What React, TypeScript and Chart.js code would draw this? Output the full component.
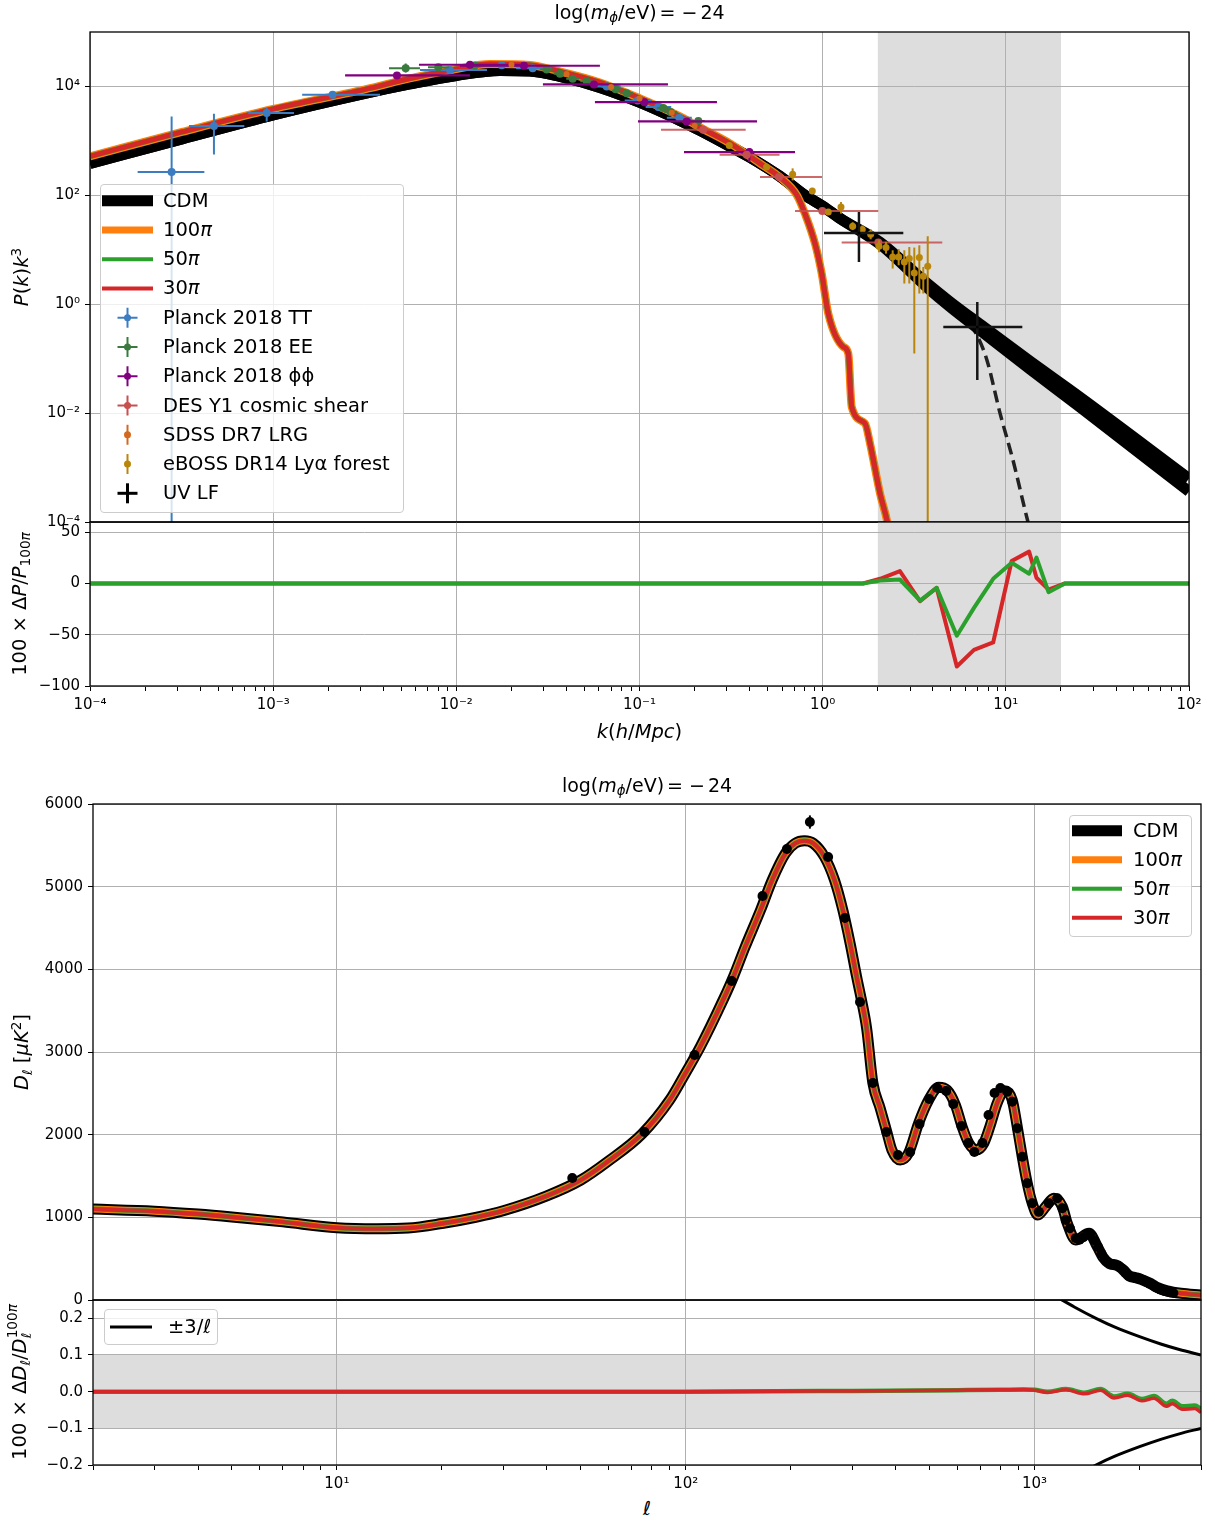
import React, { useEffect, useRef } from "react";
import { Chart, registerables } from "chart.js";

Chart.register(...registerables);

const FONT = "'DejaVu Sans', 'Liberation Sans', sans-serif";
const GRID = "#b0b0b0";
const SHADE = "#dddddd";
const ORANGE = "#ff7f0e";
const GREEN = "#2ca02c";
const RED = "#d62728";
const C_TT = "#3b7dc0";
const C_EE = "#3a7a3f";
const C_PP = "#800080";
const C_DES = "#c64f50";
const C_SDSS = "#d2691e";
const C_EBOSS = "#b8860b";

// ================= Panel 1: P(k) k^3 =================
const kCDM = [1e-4, 3.18e-4, 1e-3, 3.17e-3, 5.58e-3, 0.01, 0.0173, 0.0252, 0.0368, 0.0608, 0.1007, 0.1663, 0.2138, 0.3119, 0.4009, 0.5848, 0.8, 1.004, 1.243, 2.056, 3.712, 4.956, 7.225, 13.55, 25.4, 100];
const pkCDM = [386, 1089, 2999, 7447, 11110, 15920, 19660, 19230, 15250, 9585, 5078, 2377, 1560, 792, 498, 223, 100, 62.8, 37.8, 12.62, 2.05, 0.9, 0.3334, 0.0641, 0.01288, 3.63e-4];
const pkCDMUpper = [386, 1089, 2999, 7447, 11110, 15920, 19660, 19230, 15250, 9585, 5078, 2377, 1560, 792, 498, 223, 100, 62.8, 37.8, 13.73, 2.428, 1.111, 0.4295, 0.0899, 0.01968, 6.28e-4];

const kFDM = [1e-4, 3.18e-4, 1e-3, 3.17e-3, 5.58e-3, 0.01, 0.01527, 0.0252, 0.0368, 0.0608, 0.1007, 0.1663, 0.2138, 0.3119, 0.4547, 0.5848, 0.724, 0.8, 0.9081, 0.988, 1.073, 1.296, 1.38, 1.44, 1.702, 1.813, 2.056, 2.253, 2.451];
const pkFDM = [520, 1462, 3864, 8811, 14030, 20930, 25880, 24770, 18840, 11840, 6026, 2818, 1771, 899, 386, 214, 100, 46.1, 13.0, 3.66, 0.674, 0.165, 0.124, 0.0131, 6.47e-3, 2.78e-3, 3.37e-4, 1.01e-4, 2.0e-5];

const kDash = [3.854, 4.956, 5.984, 6.958, 7.889, 9.292, 10.94, 13.21, 15.36];
const pkDash = [2.05, 1.0, 0.553, 0.27, 0.0938, 0.01, 1.37e-3, 1e-4, 1.6e-5];

const kTT = [2.79e-4, 4.75e-4, 9.22e-4, 2.11e-3, 9.23e-3, 0.01769, 0.02611, 0.0662, 0.0977, 0.1266, 0.165];
const pkTT = [268, 1869, 3236, 7043, 20100, 24590, 21670, 10000, 5535, 4172, 2666];
const kTTlo = [1.82e-4, 3.47e-4, 7.31e-4, 1.44e-3, 6.33e-3, 0.0142, 0.0212, 0.0556, 0.083, 0.108, 0.141];
const kTThi = [4.21e-4, 6.96e-4, 1.3e-3, 3.83e-3, 0.0147, 0.0225, 0.033, 0.079, 0.1155, 0.149, 0.193];
const pkTTlo = [1e-6, 565, 2280, 6650, 19300, 23800, 21000, 9700, 5380, 4050, 2580];
const pkTThi = [2815, 3155, 4064, 7450, 20900, 25400, 22400, 10300, 5700, 4300, 2760];

const kEE = [5.29e-3, 7.97e-3, 0.01264, 0.03113, 0.0368, 0.04317, 0.05148, 0.07413, 0.0851, 0.1349, 0.148, 0.2094];
const pkEE = [21670, 22600, 24270, 20500, 17100, 13840, 12510, 8923, 7535, 3998, 3376, 2308];
const kEElo = [4.29e-3, 7.0e-3, 0.0112, 0.0287, 0.034, 0.0398, 0.0475, 0.0684, 0.0785, 0.1245, 0.1365, 0.193];
const kEEhi = [6.33e-3, 9.1e-3, 0.0143, 0.0338, 0.0399, 0.0468, 0.0558, 0.0804, 0.0923, 0.1462, 0.1605, 0.227];
const pkEElo = [18070, 21500, 23100, 19500, 16200, 13100, 11850, 8450, 7130, 3780, 3190, 2180];
const pkEEhi = [26420, 23700, 25400, 21500, 18000, 14600, 13200, 9400, 7950, 4220, 3560, 2440];

const kPP = [4.74e-3, 0.01187, 0.0234, 0.0564, 0.1062, 0.181, 0.3977];
const pkPP = [15920, 25010, 23980, 10880, 5150, 2280, 623];
const kPPlo = [2.47e-3, 6.25e-3, 0.01047, 0.0297, 0.0571, 0.0981, 0.175];
const kPPhi = [0.01187, 0.02226, 0.0608, 0.143, 0.2648, 0.438, 0.7063];
const pkPPlo = [15300, 24200, 23200, 10500, 4950, 2180, 408];
const pkPPhi = [16600, 25800, 24800, 11300, 5350, 2390, 729];

const kDES = [0.223, 0.3847, 0.5776, 0.9954, 2.012];
const pkDES = [1605, 558, 216.7, 51.5, 13.56];
const kDESlo = [0.131, 0.2737, 0.4548, 0.7063, 1.27];
const kDEShi = [0.38, 0.5818, 0.9915, 2.012, 4.498];
const pkDESlo = [1530, 530, 205, 48.5, 12.7];
const pkDEShi = [1680, 586, 228, 54.5, 14.4];

const kSDSS = [0.02, 0.04, 0.07, 0.1, 0.15, 0.2];
const pkSDSS = [25000, 17000, 9800, 6000, 3300, 1900];
const pkSDSSlo = [23500, 16000, 9200, 5640, 3100, 1790];
const pkSDSShi = [26500, 18000, 10400, 6360, 3500, 2010];

const kLya = [0.3091, 0.4943, 0.6855, 0.8777, 1.073, 1.259, 1.458, 1.645, 1.828, 2.03, 2.218, 2.411, 2.6, 2.791, 2.972, 3.164, 3.371, 3.543, 3.746];
const pkLya = [827, 330, 242.8, 119.9, 49.4, 61.0, 27.0, 23.5, 19.25, 11.6, 10.98, 7.38, 7.38, 5.97, 6.9, 3.75, 7.19, 3.27, 4.98];
const pkLyaLo = [760, 300, 188, 105, 44, 46.1, 23, 19.5, 15.6, 9.0, 8.5, 4.52, 5.2, 2.4, 2.4, 0.1246, 1.572, 1.572, 1e-6];
const pkLyaHi = [900, 360, 313, 137, 56, 75.3, 32, 28, 23.8, 15.0, 14.0, 9.79, 10.3, 9.79, 11.26, 10.98, 12.09, 4.835, 17.69];

const kUV = [1.578, 6.985];
const pkUV = [20.3, 0.3834];
const kUVlo = [1.017, 4.556];
const kUVhi = [2.756, 12.3];
const pkUVlo = [5.97, 0.0404];
const pkUVhi = [49.4, 1.1];

// ================= Panel 2: residual of P(k) =================
const kRes = [1e-4, 1e-3, 1e-2, 0.1, 1.0, 1.66, 2.06, 2.64, 3.4, 4.19, 5.4, 6.7, 8.53, 10.76, 13.4, 14.7, 17.1, 21.0, 30, 100];
const resP50 = [0, 0, 0, 0, 0, 0, 2.9, 3.9, -16.7, -4.2, -51, -23.8, 4.6, 20.3, 9.5, 25.2, -8.5, 0, 0, 0];
const resP30 = [0, 0, 0, 0, 0, 0, 4.6, 12.1, -17.3, -4.2, -81, -64.7, -57.5, 21.9, 31.1, 5.6, -5.9, 0, 0, 0];

// ================= Panel 3: CMB TT =================
const ellModel = [2, 3, 4, 5, 7, 10, 13, 16, 20, 25, 30, 40, 50, 60, 75, 90, 100, 110, 128, 137, 148, 164, 177, 193, 206, 219, 232, 250, 267, 282, 296, 309, 319, 330, 344, 361, 377, 390, 412, 435, 465, 497, 531, 561, 593, 620, 648, 681, 715, 747, 781, 820, 863, 892, 922, 953, 985, 1022, 1076, 1136, 1201, 1241, 1312, 1433, 1514, 1570, 1640, 1720, 1800, 1870, 1950, 2020, 2150, 2250, 2400, 2628, 3000];
const dlModel = [1100, 1075, 1040, 1005, 945, 875, 862, 870, 925, 1000, 1080, 1260, 1450, 1680, 2010, 2420, 2750, 3060, 3630, 3910, 4270, 4720, 5080, 5400, 5525, 5555, 5525, 5360, 5080, 4720, 4315, 3910, 3630, 3290, 2625, 2320, 2036, 1814, 1693, 1775, 2137, 2419, 2573, 2540, 2359, 2096, 1896, 1814, 1896, 2117, 2379, 2532, 2419, 2096, 1733, 1411, 1170, 1028, 1129, 1230, 1129, 928, 726, 807, 645, 520, 440, 420, 360, 290, 270, 250, 200, 150, 110, 81, 60];

const ellData = [47.3, 76.2, 106, 135.5, 166, 195, 227, 256, 286, 316, 344, 376, 406, 440, 468, 499, 526, 558, 585, 617, 646, 672, 709, 738, 768, 798, 835, 863, 892, 922, 953, 985, 1029, 1099, 1162, 1201, 1228, 1263, 1312, 1345, 1380, 1415, 1450, 1485, 1520, 1555, 1590, 1625, 1660, 1700, 1740, 1780, 1820, 1860, 1900, 1940, 1980, 2020, 2060, 2100, 2140, 2180, 2220, 2260, 2300, 2350, 2400, 2450, 2500];
const dlData = [1476, 2032, 2964, 3859, 4887, 5455, 5782, 5359, 4621, 3605, 2625, 2032, 1754, 1790, 2129, 2431, 2564, 2528, 2371, 2105, 1899, 1790, 1899, 2238, 2504, 2564, 2520, 2399, 2077, 1733, 1412, 1170, 1068, 1170, 1230, 1109, 968, 867, 746, 730, 760, 800, 790, 720, 640, 560, 490, 450, 430, 420, 410, 380, 330, 295, 280, 270, 260, 250, 235, 215, 195, 175, 155, 140, 125, 110, 100, 90, 85];
const dlErr = [50, 45, 35, 35, 40, 45, 80, 40, 35, 30,
  30, 25, 25, 25, 25, 25, 25, 25, 25, 25,
  25, 25, 25, 25, 25, 25, 25, 25, 25, 25,
  25, 25, 25, 25, 25, 25, 25, 25, 25, 25,
  25, 25, 25, 25, 25, 25, 25, 25, 25, 25,
  25, 25, 25, 25, 25, 25, 25, 25, 25, 25,
  25, 25, 25, 25, 25, 25, 25, 25, 25];

// ================= Panel 4: residual of D_ell =================
const ellRes = [2, 10, 100, 300, 600, 800, 930, 1000, 1090, 1230, 1390, 1545, 1690, 1850, 2030, 2200, 2390, 2480, 2650, 2880, 3000];
const resD50 = [0, 0, 0, 0.002, 0.004, 0.005, 0.006, 0.005, 0.0, 0.007, -0.003, 0.007, -0.013, -0.006, -0.02, -0.012, -0.033, -0.025, -0.04, -0.038, -0.047];
const resD30 = [0, 0, 0, 0.002, 0.004, 0.005, 0.006, 0.004, -0.002, 0.005, -0.006, 0.004, -0.017, -0.01, -0.025, -0.018, -0.04, -0.033, -0.048, -0.046, -0.057];
const ellBound = [1180, 1300, 1500, 1700, 2000, 2300, 2600, 3000];
const boundUp = [0.254, 0.231, 0.2, 0.176, 0.15, 0.13, 0.115, 0.1];
const boundDown = [-0.254, -0.231, -0.2, -0.176, -0.15, -0.13, -0.115, -0.1];

// ================= helpers =================
const SUP: Record<string, string> = { "-": "\u207B", "0": "\u2070", "1": "\u00B9", "2": "\u00B2", "3": "\u00B3", "4": "\u2074", "5": "\u2075", "6": "\u2076", "7": "\u2077", "8": "\u2078", "9": "\u2079" };
function decadeLabel(v: number): string {
  const e = Math.round(Math.log10(v));
  return "10" + String(e).split("").map((c) => SUP[c]).join("");
}
function uminus(v: number, digits: number): string {
  return v.toFixed(digits).replace("-", "\u2212");
}
function logTickList(min: number, max: number) {
  const out: any[] = [];
  const e0 = Math.floor(Math.log10(min) + 1e-9);
  const e1 = Math.ceil(Math.log10(max) - 1e-9);
  for (let e = e0; e <= e1; e++) {
    for (let m = 1; m <= 9; m++) {
      const v = m * Math.pow(10, e);
      if (v >= min * (1 - 1e-9) && v <= max * (1 + 1e-9)) out.push({ value: v, major: m === 1 });
    }
  }
  return out;
}
const pts = (xs: number[], ys: number[]) => xs.map((x, i) => ({ x, y: ys[i] }));

function lineDS(label: string, xs: number[], ys: number[], color: string, width: number, extra: any = {}) {
  return {
    label, data: pts(xs, ys), showLine: true, borderColor: color, backgroundColor: color,
    borderWidth: width, pointRadius: 0, pointHoverRadius: 0, fill: false, clip: 0,
    borderJoinStyle: "round", borderCapStyle: "butt", cubicInterpolationMode: "monotone", ...extra,
  };
}
function pointDS(label: string, xs: number[], ys: number[], color: string, radius: number, errors: any, errColor: string, errWidth: number) {
  return {
    label, data: pts(xs, ys), showLine: false, pointRadius: radius, pointHoverRadius: radius,
    pointBackgroundColor: color, pointBorderColor: color, pointBorderWidth: 0,
    backgroundColor: color, borderColor: color, clip: 0, errors, errColor, errWidth,
  };
}

const errorBarPlugin = {
  id: "errorBars",
  beforeDatasetDraw(chart: any, args: any) {
    const ds = chart.data.datasets[args.index];
    if (!ds || !ds.errors) return;
    const { ctx, chartArea: a } = chart;
    const xs = chart.scales.x;
    const ys = chart.scales.y;
    const e = ds.errors;
    ctx.save();
    ctx.beginPath();
    ctx.rect(a.left, a.top, a.right - a.left, a.bottom - a.top);
    ctx.clip();
    ctx.strokeStyle = ds.errColor;
    ctx.lineWidth = ds.errWidth;
    ctx.lineCap = "butt";
    ds.data.forEach((p: any, i: number) => {
      const px = xs.getPixelForValue(p.x);
      const py = ys.getPixelForValue(p.y);
      ctx.beginPath();
      if (e.xLo) {
        ctx.moveTo(xs.getPixelForValue(e.xLo[i]), py);
        ctx.lineTo(xs.getPixelForValue(e.xHi[i]), py);
      }
      if (e.yLo) {
        ctx.moveTo(px, Math.min(ys.getPixelForValue(e.yLo[i]), a.bottom + 50));
        ctx.lineTo(px, ys.getPixelForValue(e.yHi[i]));
      }
      ctx.stroke();
    });
    ctx.restore();
  },
};

const shadePlugin = (boxes: any[]) => ({
  id: "shade",
  beforeDraw(chart: any) {
    const { ctx, chartArea: a, scales } = chart;
    ctx.save();
    ctx.fillStyle = SHADE;
    boxes.forEach((b) => {
      const x0 = b.xMin != null ? scales.x.getPixelForValue(b.xMin) : a.left;
      const x1 = b.xMax != null ? scales.x.getPixelForValue(b.xMax) : a.right;
      const y0 = b.yMax != null ? scales.y.getPixelForValue(b.yMax) : a.top;
      const y1 = b.yMin != null ? scales.y.getPixelForValue(b.yMin) : a.bottom;
      ctx.fillRect(Math.max(a.left, x0), Math.max(a.top, y0), Math.min(a.right, x1) - Math.max(a.left, x0), Math.min(a.bottom, y1) - Math.max(a.top, y0));
    });
    ctx.restore();
  },
});

const framePlugin = {
  id: "frame",
  afterDraw(chart: any) {
    const { ctx, chartArea: a } = chart;
    ctx.save();
    ctx.strokeStyle = "#000";
    ctx.lineWidth = 1.3;
    ctx.strokeRect(a.left, a.top, a.right - a.left, a.bottom - a.top);
    ctx.restore();
  },
};

const tickFont = { family: FONT, size: 15 };
const PAD = 16; // canvas margin above / below each plot area (room for tick labels)

function logX(min: number, max: number, showLabels: boolean, fitH: number) {
  return {
    type: "logarithmic", position: "bottom", min, max,
    afterBuildTicks: (s: any) => { s.ticks = logTickList(min, max); },
    afterFit: (s: any) => { s.height = fitH; },
    ticks: {
      display: showLabels, autoSkip: false, maxRotation: 0, minRotation: 0, font: tickFont, color: "#000", padding: 5,
      callback: (v: number, i: number, t: any[]) => (t[i] && t[i].major ? decadeLabel(v) : ""),
    },
    grid: {
      color: (c: any) => (c.tick && c.tick.major ? GRID : "rgba(0,0,0,0)"),
      lineWidth: 1, drawTicks: showLabels, tickLength: 5, tickColor: "#000", tickWidth: 1,
    },
    border: { display: false },
  };
}
function yAxis(type: string, min: number, max: number, vals: number[], fmt: (v: number) => string, width: number) {
  return {
    type, position: "left", min, max,
    afterBuildTicks: (s: any) => { s.ticks = vals.map((v) => ({ value: v })); },
    afterFit: (s: any) => { s.width = width; },
    ticks: { autoSkip: false, font: tickFont, color: "#000", padding: 5, callback: (v: number) => fmt(v) },
    grid: { color: GRID, lineWidth: 1, tickLength: 5, tickColor: "#000", tickWidth: 1 },
    border: { display: false },
  };
}
function baseOptions(scales: any, padding: any) {
  return {
    responsive: false, maintainAspectRatio: false, animation: false, devicePixelRatio: 1, events: [],
    layout: { padding },
    plugins: { legend: { display: false }, tooltip: { enabled: false }, title: { display: false } },
    scales,
  };
}

// ================= chart configs =================
const cfgPk = () => ({
  type: "scatter",
  data: {
    datasets: [
      pointDS("UV LF", kUV, pkUV, "#000", 1.5, { xLo: kUVlo, xHi: kUVhi, yLo: pkUVlo, yHi: pkUVhi }, "#151515", 2.5),
      pointDS("eBOSS DR14 Lyα forest", kLya, pkLya, C_EBOSS, 3.5, { yLo: pkLyaLo, yHi: pkLyaHi }, C_EBOSS, 2),
      pointDS("SDSS DR7 LRG", kSDSS, pkSDSS, C_SDSS, 3, { yLo: pkSDSSlo, yHi: pkSDSShi }, C_SDSS, 2),
      pointDS("DES Y1 cosmic shear", kDES, pkDES, C_DES, 4, { xLo: kDESlo, xHi: kDEShi, yLo: pkDESlo, yHi: pkDEShi }, "rgba(198,79,80,0.85)", 2),
      pointDS("Planck 2018 ϕϕ", kPP, pkPP, C_PP, 4, { xLo: kPPlo, xHi: kPPhi, yLo: pkPPlo, yHi: pkPPhi }, C_PP, 2.2),
      pointDS("Planck 2018 EE", kEE, pkEE, C_EE, 4, { xLo: kEElo, xHi: kEEhi, yLo: pkEElo, yHi: pkEEhi }, C_EE, 2),
      pointDS("Planck 2018 TT", kTT, pkTT, C_TT, 4, { xLo: kTTlo, xHi: kTThi, yLo: pkTTlo, yHi: pkTThi }, C_TT, 2),
      lineDS("30π", kFDM, pkFDM, RED, 5),
      lineDS("50π", kFDM, pkFDM, GREEN, 5.5),
      lineDS("100π", kFDM, pkFDM, ORANGE, 8),
      lineDS("CDM", kCDM, pkCDMUpper, "#000", 11),
      lineDS("CDM", kCDM, pkCDM, "#000", 11),
      lineDS("UV LF cutoff", kDash, pkDash, "#222", 3.5, { borderDash: [12, 6] }),
    ],
  },
  options: baseOptions(
    {
      x: logX(1e-4, 1e2, false, 0),
      y: yAxis("logarithmic", 1e-4, 1e5, [1e-4, 1e-2, 1, 1e2, 1e4], decadeLabel, 90),
    },
    { left: 0, right: 26, top: PAD, bottom: PAD }
  ),
  plugins: [shadePlugin([{ xMin: 2, xMax: 20 }]), errorBarPlugin, framePlugin],
});

const cfgPkRes = () => ({
  type: "scatter",
  data: {
    datasets: [
      lineDS("50π", kRes, resP50, GREEN, 4, { cubicInterpolationMode: "default", tension: 0 }),
      lineDS("30π", kRes, resP30, RED, 4, { cubicInterpolationMode: "default", tension: 0 }),
    ],
  },
  options: baseOptions(
    {
      x: logX(1e-4, 1e2, true, 30),
      y: yAxis("linear", -100, 60, [-100, -50, 0, 50], (v) => uminus(v, 0), 90),
    },
    { left: 0, right: 26, top: PAD, bottom: 0 }
  ),
  plugins: [shadePlugin([{ xMin: 2, xMax: 20 }]), framePlugin],
});

const cfgCmb = () => ({
  type: "scatter",
  data: {
    datasets: [
      pointDS("Planck 2018 TT", ellData, dlData, "#000", 5, { yLo: dlData.map((d, i) => d - dlErr[i]), yHi: dlData.map((d, i) => d + dlErr[i]) }, "#000", 2),
      lineDS("30π", ellModel, dlModel, RED, 4),
      lineDS("50π", ellModel, dlModel, GREEN, 5),
      lineDS("100π", ellModel, dlModel, ORANGE, 7),
      lineDS("CDM", ellModel, dlModel, "#000", 11),
    ],
  },
  options: baseOptions(
    {
      x: logX(2, 3000, false, 0),
      y: yAxis("linear", 0, 6000, [0, 1000, 2000, 3000, 4000, 5000, 6000], (v) => String(Math.round(v)), 93),
    },
    { left: 0, right: 14, top: PAD, bottom: PAD }
  ),
  plugins: [errorBarPlugin, framePlugin],
});

const cfgCmbRes = () => ({
  type: "scatter",
  data: {
    datasets: [
      lineDS("30π", ellRes, resD30, RED, 3.5),
      lineDS("50π", ellRes, resD50, GREEN, 4.5),
      lineDS("±3/ℓ", ellBound, boundUp, "#000", 3),
      lineDS("±3/ℓ lower", ellBound, boundDown, "#000", 3),
    ],
  },
  options: baseOptions(
    {
      x: logX(2, 3000, true, 30),
      y: yAxis("linear", -0.2, 0.25, [-0.2, -0.1, 0, 0.1, 0.2], (v) => uminus(v, 1), 93),
    },
    { left: 0, right: 14, top: PAD, bottom: 0 }
  ),
  plugins: [shadePlugin([{ yMin: -0.1, yMax: 0.1 }]), framePlugin],
});

// ================= components =================
function ChartPanel({ make, left, top, width, height }: any) {
  const ref = useRef<HTMLCanvasElement>(null);
  useEffect(() => {
    const chart = new Chart(ref.current as HTMLCanvasElement, make() as any);
    return () => chart.destroy();
  }, []);
  return <canvas ref={ref} width={width} height={height} style={{ position: "absolute", left, top, width, height }} />;
}

const textBase: any = { position: "absolute", fontFamily: FONT, color: "#000", whiteSpace: "nowrap", lineHeight: 1 };
const subS: any = { fontSize: "70%", verticalAlign: "-0.3em", lineHeight: 0 };
const supS: any = { fontSize: "70%", verticalAlign: "0.55em", lineHeight: 0 };
const LABEL_SIZE = 19.5;
const LEGEND_SIZE = 19.5;

function Label({ x, y, rotate, size = LABEL_SIZE, children }: any) {
  return (
    <div style={{ ...textBase, left: x, top: y, fontSize: size, transform: `translate(-50%,-50%)${rotate ? " rotate(-90deg)" : ""}` }}>
      {children}
    </div>
  );
}

function Legend({ box, items, rowY0, step, iconL, iconR, textX, fontSize }: any) {
  const cx = (iconL + iconR) / 2;
  return (
    <>
      <div style={{ position: "absolute", left: box[0], top: box[1], width: box[2], height: box[3], background: "rgba(255,255,255,0.8)", border: "1px solid #cccccc", borderRadius: 4, boxSizing: "border-box" }} />
      <svg style={{ position: "absolute", left: 0, top: 0, pointerEvents: "none" }} width={1215} height={1522}>
        {items.map((it: any, i: number) => {
          const cy = rowY0 + i * step;
          if (it.kind === "line") {
            return <line key={i} x1={iconL} x2={iconR} y1={cy} y2={cy} stroke={it.color} strokeWidth={it.width} />;
          }
          return (
            <g key={i} stroke={it.color} strokeWidth={it.lw || 2}>
              {it.xbar ? <line x1={cx - 10} x2={cx + 10} y1={cy} y2={cy} /> : null}
              <line x1={cx} x2={cx} y1={cy - 10} y2={cy + 10} />
              <circle cx={cx} cy={cy} r={it.r || 3.5} fill={it.color} stroke="none" />
            </g>
          );
        })}
      </svg>
      {items.map((it: any, i: number) => (
        <div key={"t" + i} style={{ ...textBase, left: textX, top: rowY0 + i * step, fontSize, transform: "translateY(-50%)" }}>
          {it.label}
        </div>
      ))}
    </>
  );
}

const modelLegend = [
  { kind: "line", color: "#000", width: 11, label: "CDM" },
  { kind: "line", color: ORANGE, width: 7, label: <>100<i>π</i></> },
  { kind: "line", color: GREEN, width: 4, label: <>50<i>π</i></> },
  { kind: "line", color: RED, width: 4, label: <>30<i>π</i></> },
];
const dataLegend = [
  { kind: "err", color: C_TT, xbar: true, label: "Planck 2018 TT" },
  { kind: "err", color: C_EE, xbar: true, label: "Planck 2018 EE" },
  { kind: "err", color: C_PP, xbar: true, label: "Planck 2018 ϕϕ" },
  { kind: "err", color: C_DES, xbar: true, label: "DES Y1 cosmic shear" },
  { kind: "err", color: C_SDSS, xbar: false, label: "SDSS DR7 LRG" },
  { kind: "err", color: C_EBOSS, xbar: false, label: "eBOSS DR14 Lyα forest" },
  { kind: "err", color: "#000", xbar: true, lw: 3, r: 1.5, label: "UV LF" },
];

function Title({ x, y }: any) {
  return (
    <Label x={x} y={y} size={19}>
      log(<i>m</i><span style={subS}><i>ϕ</i></span>/eV)<span style={{ marginLeft: 3, marginRight: 3 }}>=</span><span style={{ marginLeft: 3, marginRight: 3 }}>−</span>24
    </Label>
  );
}

// plot-area edges (page px)
const TOP_Y0 = 32, TOP_Y1 = 522, RES_Y1 = 686;
const CMB_Y0 = 804, CMB_Y1 = 1300, CRES_Y1 = 1465;

export default function App() {
  return (
    <div style={{ position: "absolute", left: 0, top: 0, width: 1215, height: 1522, background: "#fff", overflow: "hidden" }}>
      <ChartPanel make={cfgPk} left={0} top={TOP_Y0 - PAD} width={1215} height={TOP_Y1 - TOP_Y0 + 2 * PAD} />
      <ChartPanel make={cfgPkRes} left={0} top={TOP_Y1 - PAD} width={1215} height={RES_Y1 - TOP_Y1 + PAD + 30} />
      <ChartPanel make={cfgCmb} left={0} top={CMB_Y0 - PAD} width={1215} height={CMB_Y1 - CMB_Y0 + 2 * PAD} />
      <ChartPanel make={cfgCmbRes} left={0} top={CMB_Y1 - PAD} width={1215} height={CRES_Y1 - CMB_Y1 + PAD + 30} />

      <Title x={639.5} y={12} />
      <Title x={647} y={785} />

      <Label x={22} y={277} rotate>
        <i>P</i>(<i>k</i>)<i>k</i><span style={supS}>3</span>
      </Label>
      <Label x={20} y={604} rotate>
        100 × Δ<i>P</i>/<i>P</i><span style={subS}>100<i>π</i></span>
      </Label>
      <Label x={639.5} y={732}>
        <i>k</i>(<i>h</i>/<i>Mpc</i>)
      </Label>

      <Label x={22} y={1052} rotate>
        <i>D</i><span style={subS}><i>ℓ</i></span> [<i>μK</i><span style={supS}>2</span>]
      </Label>
      <Label x={20} y={1382} rotate>
        100 × Δ<i>D</i><span style={subS}><i>ℓ</i></span>/<i>D</i>
        <span style={{ display: "inline-flex", flexDirection: "column", fontSize: "70%", lineHeight: 1, verticalAlign: "middle" }}>
          <span>100<i>π</i></span>
          <span><i>ℓ</i></span>
        </span>
      </Label>
      <Label x={647} y={1509}>
        <i>ℓ</i>
      </Label>

      <Legend box={[100, 184, 304, 329]} items={[...modelLegend, ...dataLegend]} rowY0={200.7} step={29.26} iconL={102} iconR={153} textX={163} fontSize={LEGEND_SIZE} />
      <Legend box={[1069, 815, 123, 122]} items={modelLegend} rowY0={830.7} step={29} iconL={1072} iconR={1122} textX={1133} fontSize={LEGEND_SIZE} />
      <Legend box={[104, 1309, 114, 36]} items={[{ kind: "line", color: "#000", width: 3, label: <>±3/<i>ℓ</i></> }]} rowY0={1327} step={29} iconL={110} iconR={152} textX={168} fontSize={LEGEND_SIZE} />
    </div>
  );
}
